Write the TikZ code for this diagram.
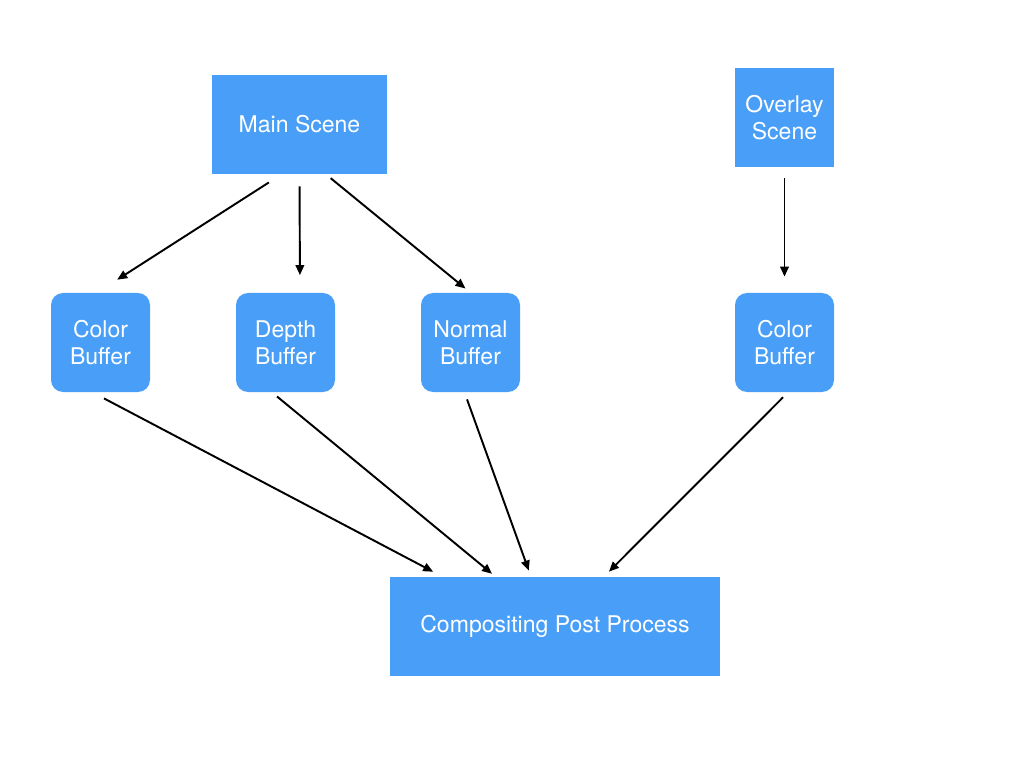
\documentclass[tikz,border=0pt]{standalone}
\usepackage{fontspec}
\setmainfont{TeX Gyre Heros}
\usetikzlibrary{arrows.meta}
\definecolor{keyblue}{HTML}{499FF7}

\begin{document}
\begin{tikzpicture}[
  box/.style={fill=keyblue, text=white, inner sep=0pt, align=center,
    minimum width=1.98cm, minimum height=1.98cm, font=\fontsize{13.1}{15.3}\selectfont},
  buffer/.style={box, rounded corners=0.24cm},
  link/.style={-{Triangle[length=0.2cm,width=0.17cm]}, line width=1.1pt,
    shorten <=0.14cm, shorten >=0.14cm}
]
\useasboundingbox (0,0) rectangle (20.48,-15.36);

% Scenes
\node[box, minimum width=3.5cm] (main) at (5.99,-2.49) {Main Scene};
\node[box] (overlay) at (15.69,-2.35) {Overlay\\Scene};

% Buffers
\node[buffer] (color) at (2.01,-6.85) {Color\\Buffer};
\node[buffer] (depth) at (5.71,-6.85) {Depth\\Buffer};
\node[buffer] (normal) at (9.41,-6.85) {Normal\\Buffer};
\node[buffer] (color2) at (15.69,-6.85) {Color\\Buffer};

% Compositing
\node[box, minimum width=6.6cm] (comp) at (11.1,-12.53) {Compositing Post Process};

% Arrows
\draw[link, shorten <=0.3cm, shorten >=0.48cm] ([xshift=-0.36cm]main.south) -- ([xshift=-0.07cm]color.north);
\draw[link, shorten <=0.24cm, shorten >=0.35cm] (main.south) -- ([xshift=0.29cm]depth.north);
\draw[link, shorten <=0.12cm, shorten >=0.13cm] ([xshift=0.53cm]main.south) -- (normal.north);
\draw[link, shorten <=0.22cm, shorten >=0.32cm] (overlay.south) -- (color2.north);
\draw[link, shorten <=0.26cm, shorten >=0.21cm] ([xshift=-0.16cm]color.south) -- ([xshift=-2.25cm]comp.north);
\draw[link, shorten <=0.13cm, shorten >=0.09cm] ([xshift=-0.27cm]depth.south) -- ([xshift=-1.19cm]comp.north);
\draw[link, shorten <=0.15cm, shorten >=0.13cm] ([xshift=-0.12cm]normal.south) -- ([xshift=-0.48cm]comp.north);
\draw[link] ([xshift=0.07cm]color2.south) -- ([xshift=0.98cm]comp.north);
\end{tikzpicture}
\end{document}
